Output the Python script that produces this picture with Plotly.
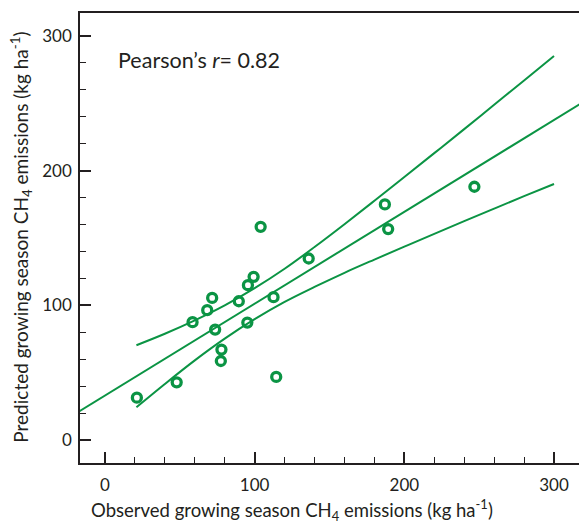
import plotly.graph_objects as go

# Observed vs predicted growing season CH4 emissions (kg ha-1)
observed = [21.3, 47.9, 58.5, 68.3, 71.6, 73.6, 77.8, 77.4, 89.4, 95.1,
            95.5, 99.3, 104.0, 112.6, 114.4, 136.1, 187.0, 189.2, 246.8]
predicted = [31.6, 43.0, 87.6, 96.5, 105.6, 82.1, 67.3, 58.8, 103.1, 87.3,
             115.0, 121.2, 158.3, 106.1, 47.0, 134.8, 174.9, 156.6, 188.0]

# Regression line (read at the two plot edges)
fit_x = [-20, 320]
fit_y = [19.6, 251.1]

# Confidence band
band_x = [21, 40, 60, 80, 100, 120, 140, 160, 180, 200, 220, 240, 260, 280, 300]
band_upper = [70.5, 79.0, 88.9, 100.0, 112.8, 127.2, 143.3, 160.2, 177.6, 195.2,
              212.9, 230.7, 248.8, 266.8, 285.0]
band_lower = [24.5, 41.8, 59.3, 75.4, 89.8, 102.6, 113.7, 124.2, 134.0, 143.6,
              153.1, 162.5, 171.8, 181.0, 190.0]

x_ticks = [0, 100, 200, 300]
y_ticks = [0, 100, 200, 300]

GREEN = "#0b9444"
AXIS = "#231f20"
FONT = "Lato"

fig = go.Figure()
fig.add_trace(go.Scatter(x=fit_x, y=fit_y, mode="lines",
                         line=dict(color=GREEN, width=2), showlegend=False))
fig.add_trace(go.Scatter(x=band_x, y=band_upper, mode="lines",
                         line=dict(color=GREEN, width=2, shape="spline"), showlegend=False))
fig.add_trace(go.Scatter(x=band_x, y=band_lower, mode="lines",
                         line=dict(color=GREEN, width=2, shape="spline"), showlegend=False))
fig.add_trace(go.Scatter(x=observed, y=predicted, mode="markers",
                         marker=dict(symbol="circle-open", size=9, color=GREEN,
                                     line=dict(color=GREEN, width=3.3)),
                         showlegend=False))

axis_common = dict(
    showline=True, linecolor=AXIS, linewidth=1.5,
    ticks="inside", ticklen=11, tickwidth=1.5, tickcolor=AXIS,
    minor=dict(ticks="inside", ticklen=6, tickwidth=1.2, tickcolor=AXIS, dtick=20, showgrid=False),
    showgrid=False, zeroline=False,
    tickfont=dict(family=FONT, size=17, color=AXIS),
)

fig.update_xaxes(range=[-16.7, 316.7], tickvals=x_ticks, mirror=True,
                 ticklabelstandoff=6, **axis_common)
fig.update_yaxes(range=[-16.8, 316.8], tickvals=y_ticks,
                 ticklabelstandoff=3, **axis_common)

fig.update_layout(
    width=579, height=527,
    margin=dict(l=80, r=0, t=13, b=64),
    paper_bgcolor="white", plot_bgcolor="white",
    font=dict(family=FONT, color=AXIS),
    annotations=[
        dict(text="Pearson’s <i>r</i>= 0.82", xref="paper", yref="paper",
             x=0.072, y=0.896, xanchor="left", yanchor="middle", showarrow=False,
             font=dict(family=FONT, size=21.5, color=AXIS)),
        dict(text="Observed growing season CH<sub>4</sub> emissions (kg ha<sup>-1</sup>)",
             xref="paper", yref="paper", x=0.425, y=-0.104, xanchor="center", yanchor="middle",
             showarrow=False, font=dict(family=FONT, size=18.5, color=AXIS)),
        dict(text="Predicted growing season CH<sub>4</sub> emissions (kg ha<sup>-1</sup>)",
             xref="paper", yref="paper", x=-0.120, y=0.501, xanchor="center", yanchor="middle",
             textangle=-90, showarrow=False, font=dict(family=FONT, size=19, color=AXIS)),
    ],
)

fig.write_html("out.html")
